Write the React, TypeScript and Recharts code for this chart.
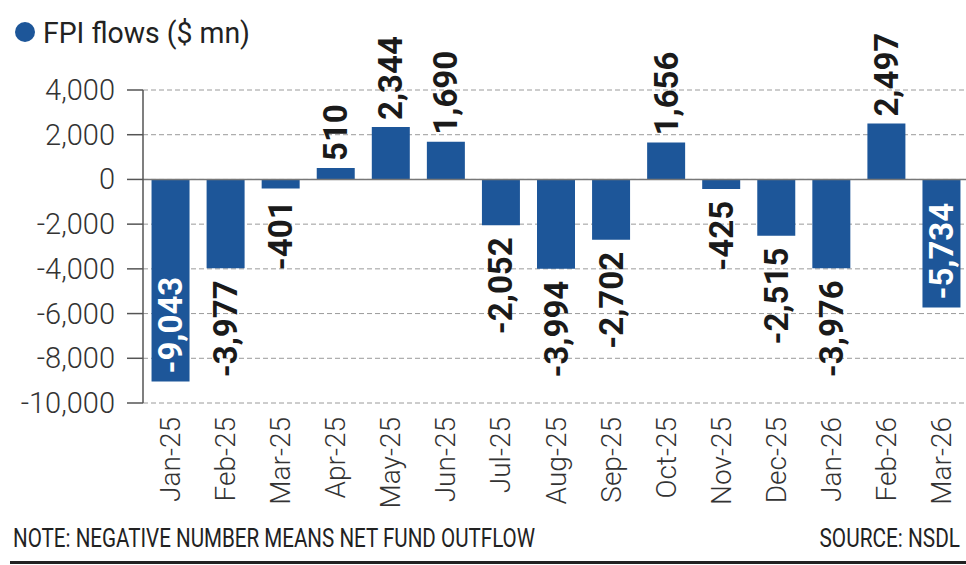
import { BarChart, Bar, XAxis, YAxis, CartesianGrid, ReferenceLine, LabelList } from 'recharts';

const months = ['Jan-25', 'Feb-25', 'Mar-25', 'Apr-25', 'May-25', 'Jun-25', 'Jul-25', 'Aug-25', 'Sep-25', 'Oct-25', 'Nov-25', 'Dec-25', 'Jan-26', 'Feb-26', 'Mar-26'];
const flows = [-9043, -3977, -401, 510, 2344, 1690, -2052, -3994, -2702, 1656, -425, -2515, -3976, 2497, -5734];
const yTicks = [-10000, -8000, -6000, -4000, -2000, 0, 2000, 4000];
const insideLabels = ['Jan-25', 'Mar-26'];

const data = months.map((month, i) => ({ month, flow: flows[i] }));

const FONT = 'Roboto, "Noto Sans", sans-serif';
const BLUE = '#1d5699';

const YTick = ({ x, y, payload }: any) => (
  <text x={x} y={y} textAnchor="end" dominantBaseline="central" fontFamily={FONT} fontWeight={300} fontSize={29} fill="#333">
    {payload.value.toLocaleString('en-US')}
  </text>
);

const XTick = ({ x, payload }: any) => (
  <text
    transform={`translate(${x},417) rotate(-90)`}
    textAnchor="end"
    dominantBaseline="central"
    fontFamily={FONT}
    fontWeight={300}
    fontSize={28}
    fill="#333"
  >
    {payload.value}
  </text>
);

const BarLabel = (props: any) => {
  const { x, y, width, height, index } = props;
  const v = flows[index];
  const cx = Number(x) + Number(width) / 2;
  const top = Math.min(Number(y), Number(y) + Number(height));
  const bottom = Math.max(Number(y), Number(y) + Number(height));
  const inside = insideLabels.includes(months[index]);
  let ay = top - 7;
  let anchor = 'start';
  if (v < 0 && inside) {
    ay = bottom - 8;
  } else if (v < 0) {
    ay = bottom + 12;
    anchor = 'end';
  }
  return (
    <text
      transform={`translate(${cx},${ay}) rotate(-90)`}
      textAnchor={anchor as any}
      dominantBaseline="central"
      fontFamily={FONT}
      fontWeight={700}
      fontSize={33}
      fill={inside ? '#fff' : '#1a1a1a'}
    >
      {v.toLocaleString('en-US')}
    </text>
  );
};

export default function App() {
  return (
    <div style={{ position: 'absolute', left: 0, top: 0, width: 966, height: 565, overflow: 'hidden', background: '#fff' }}>
      <div style={{ position: 'absolute', left: 0, top: 0 }}>
        <BarChart width={1000} height={565} data={data} margin={{ top: 90, right: 31, left: 13, bottom: 62 }} barCategoryGap="15.5%">
          <CartesianGrid vertical={false} stroke="#9a9a9a" strokeDasharray="5 3" />
          <XAxis dataKey="month" height={100} axisLine={false} tickLine={false} tick={<XTick />} interval={0} />
          <YAxis
            width={130}
            domain={[-10000, 4000]}
            ticks={yTicks}
            interval={0}
            tickSize={16}
            tickMargin={12}
            axisLine={{ stroke: '#555', strokeWidth: 1.5 }}
            tickLine={{ stroke: '#555', strokeWidth: 1.5 }}
            tick={<YTick />}
          />
          <ReferenceLine y={0} stroke="#777" strokeWidth={1.5} />
          <Bar dataKey="flow" fill={BLUE} isAnimationActive={false}>
            <LabelList dataKey="flow" content={<BarLabel />} />
          </Bar>
        </BarChart>
      </div>
      <svg width={966} height={565} style={{ position: 'absolute', left: 0, top: 0, pointerEvents: 'none' }}>
        <circle cx={25} cy={32} r={10} fill={BLUE} />
        <text x={43} y={43} fontFamily={FONT} fontSize={30} fill="#222" textLength={207} lengthAdjust="spacingAndGlyphs">
          FPI flows ($ mn)
        </text>
        <text x={13} y={547} fontFamily={FONT} fontSize={26} fill="#222" textLength={522} lengthAdjust="spacingAndGlyphs">
          NOTE: NEGATIVE NUMBER MEANS NET FUND OUTFLOW
        </text>
        <text transform="translate(960,547) scale(0.8,1)" textAnchor="end" fontFamily={FONT} fontSize={26} fill="#222">
          SOURCE: NSDL
        </text>
        <rect x={10} y={561} width={956} height={3} fill="#222" />
      </svg>
    </div>
  );
}
